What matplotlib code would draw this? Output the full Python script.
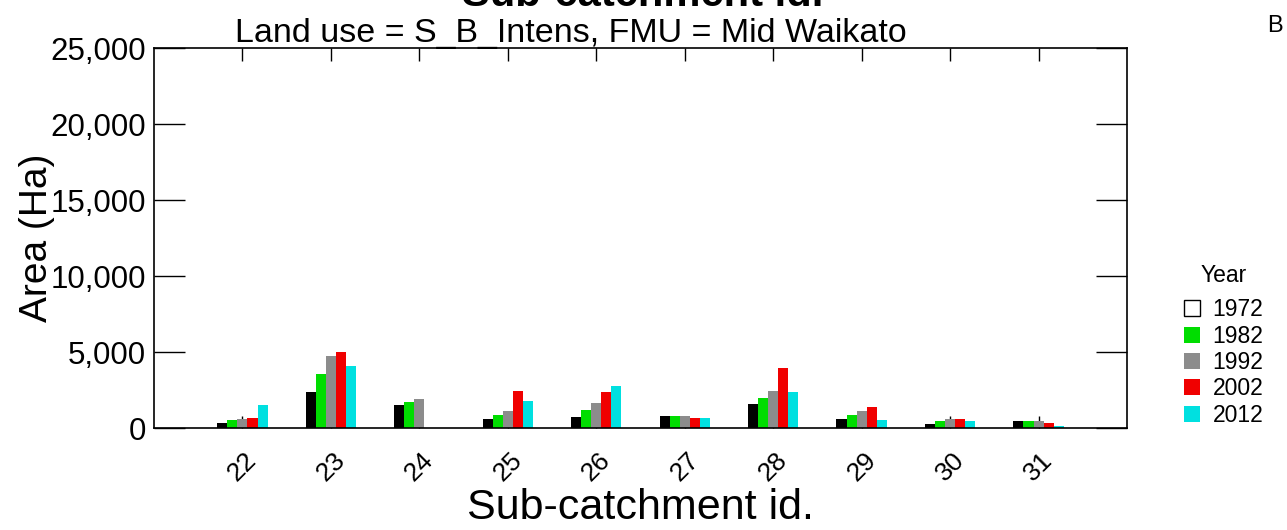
import matplotlib
matplotlib.use("Agg")
import matplotlib.pyplot as plt
from matplotlib.patches import Patch
from matplotlib import font_manager
import numpy as np

categories = [22, 23, 24, 25, 26, 27, 28, 29, 30, 31]
years = ["1972", "1982", "1992", "2002", "2012"]
v1972 = [340, 2380, 1520, 620, 710, 820, 1560, 600, 250, 430]
v1982 = [510, 3560, 1740, 870, 1170, 820, 2000, 870, 430, 430]
v1992 = [620, 4760, 1940, 1150, 1650, 780, 2460, 1130, 580, 470]
v2002 = [670, 5020, 0, 2460, 2390, 650, 3950, 1350, 620, 360]
v2012 = [1540, 4080, 0, 1800, 2770, 650, 2380, 510, 430, 160]
series = [v1972, v1982, v1992, v2002, v2012]
colors = ["#000000", "#00dd00", "#8c8c8c", "#f00000", "#00e0e0"]

names = {f.name for f in font_manager.fontManager.ttflist}
base = "Liberation Sans" if "Liberation Sans" in names else "DejaVu Sans"
narrow = "Liberation Sans Narrow" if "Liberation Sans Narrow" in names else base
plt.rcParams['font.family'] = [base, 'DejaVu Sans']

W, H = 1287, 530
fig = plt.figure(figsize=(W / 100, H / 100), dpi=100)
ax = fig.add_axes([154 / W, 1 - 428 / H, (1127 - 154) / W, (428 - 48) / H])

x = np.array(categories, dtype=float)
bw = 0.114
for i, (vals, c) in enumerate(zip(series, colors)):
    ax.bar(x + (i - 2) * bw, vals, width=bw, color=c, edgecolor='none', zorder=2)

ax.set_xlim(21, 32)
ax.set_ylim(0, 25000)
ax.set_yticks(np.arange(0, 25001, 5000))
ax.set_yticklabels([f"{v:,}" for v in range(0, 25001, 5000)])
ax.set_xticks(categories)
ax.set_xticklabels([str(c) for c in categories], rotation=45, ha='center', fontsize=19)
ax.tick_params(axis='y', direction='in', length=22, width=1, labelsize=22.5, pad=6,
               right=True, color='black')
ax.tick_params(axis='x', direction='in', length=9, width=1, pad=14, top=True)
for s in ax.spines.values():
    s.set_linewidth(1.2)
    s.set_zorder(3)

ax.set_xlabel("Sub-catchment id.", fontsize=31, family=[narrow, 'DejaVu Sans'], labelpad=2)
ax.set_ylabel("Area (Ha)", fontsize=28, family=[narrow, 'DejaVu Sans'], labelpad=2)
ax.yaxis.set_label_coords(-0.102, 0.5)

fig.text(571 / W, 1 - 42 / H, "Land use = S_B_Intens, FMU = Mid Waikato",
         fontsize=24.5, family=[narrow, 'DejaVu Sans'], ha='center', va='baseline')
fig.text(643 / W, 1 - 6 / H, "Sub-catchment id.", fontsize=30, fontweight='bold',
         family=[narrow, 'DejaVu Sans'], ha='center', va='baseline')
fig.text(1275 / W, 1 - 26 / H, "B", fontsize=17, ha='center', va='center')

handles = [Patch(facecolor='white' if i == 0 else c, edgecolor='black' if i == 0 else c,
                 linewidth=1 if i == 0 else 0) for i, c in enumerate(colors)]
leg = ax.legend(handles, years, title="Year", loc='upper left',
                bbox_to_anchor=(1184 / W, 1 - 264 / H), bbox_transform=fig.transFigure,
                frameon=False, fontsize=16.5, title_fontsize=16.5,
                handlelength=0.7, handleheight=0.7, handletextpad=0.55,
                labelspacing=0.15, borderaxespad=0, borderpad=0)
leg._legend_box.sep = 8

fig.savefig("out.png", dpi=100)
